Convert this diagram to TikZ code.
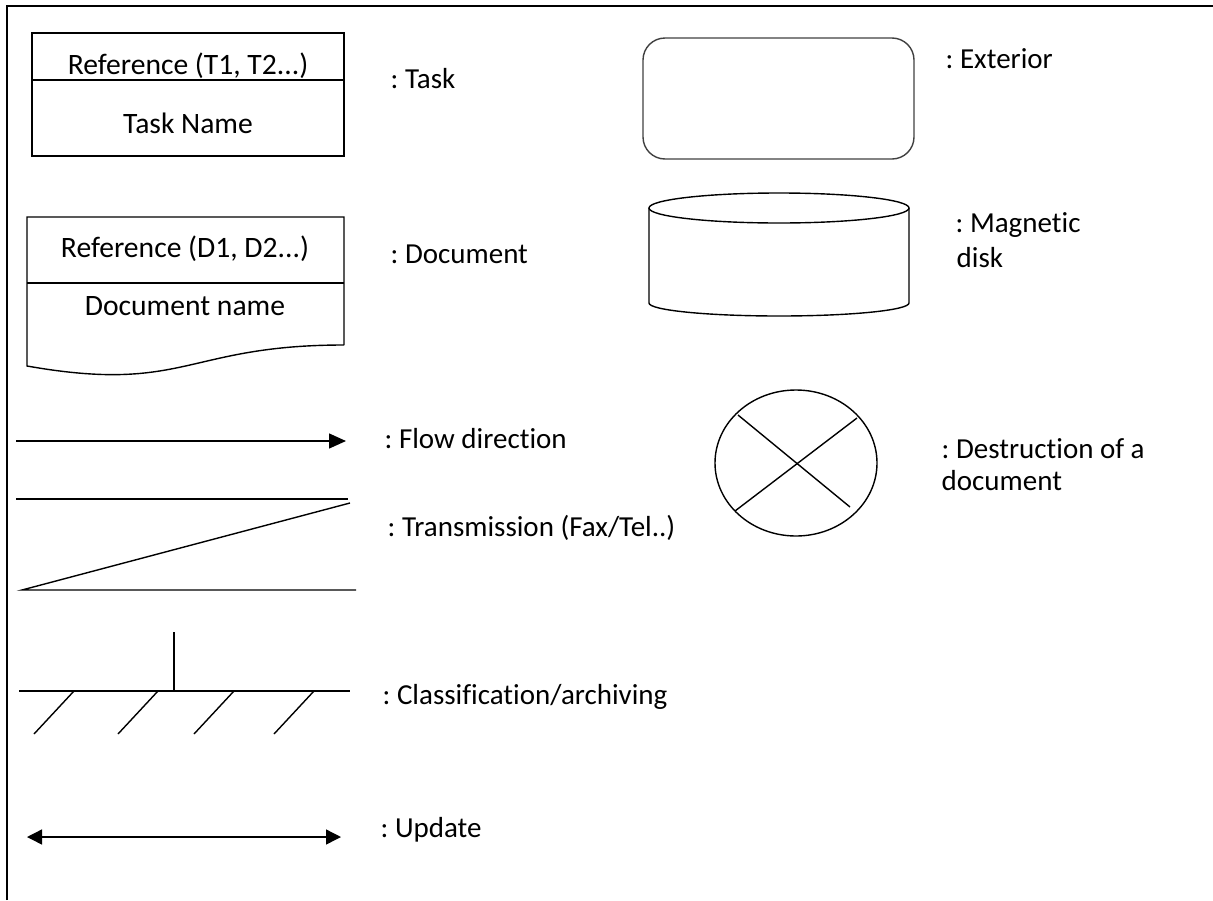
\documentclass[tikz,border=0pt]{standalone}
\usepackage{fontspec}
\setmainfont{Carlito}[RawFeature={-liga}]
\usetikzlibrary{arrows.meta}
\begin{document}
\frenchspacing
\begin{tikzpicture}[x=1pt,y=-1pt,line width=1.4pt,
  boxtext/.style={font=\fontsize{29.6}{34}\selectfont,inner sep=0pt,anchor=base},
  lbl/.style={font=\fontsize{29}{33}\selectfont,anchor=base west,inner sep=0pt},
  tip/.style={-{Triangle[length=17pt,width=15pt]}},
  dtip/.style={{Triangle[length=15pt,width=15pt]}-{Triangle[length=15pt,width=15pt]}}]
\useasboundingbox (0,0) rectangle (1213,900);
% frame
\draw[line width=2.2pt] (7,900) -- (7,6) -- (1213,6);
% Task
\draw (32,33) rectangle (344,156);
\draw (32,80) -- (344,80);
\node[boxtext] (tref) at (188,74) {Reference (T1, T2...)};
\node[boxtext] (tname) at (188,133) {Task Name};
\node[lbl] (ltask) at (390,88) {: Task};
% Document
\draw (344,345) -- (344,217) -- (27,217) -- (27,366) .. controls (185.5,394) and (185.5,345) .. (344,345);
\draw (27,283) -- (344,283);
\node[boxtext] (dref) at (185,257) {Reference (D1, D2...)};
\node[boxtext] (dname) at (185,315) {Document name};
\node[lbl] (ldoc) at (390,263) {: Document};
% Exterior
\draw[draw=black!75,rounded corners=22pt] (643,38) rectangle (914,159);
\node[lbl] (lext) at (945,68) {: Exterior};
% Magnetic disk
\draw (779,208) ellipse [x radius=130pt, y radius=15pt];
\draw (649,208) -- (649,303) arc[start angle=180,end angle=360,x radius=130pt,y radius=13pt] -- (909,208);
\node[lbl] (lmag) at (955,232) {: Magnetic};
\node[lbl] (lmag2) at (956,267) {disk};
% Destruction
\draw (796,463) ellipse [x radius=81pt, y radius=73pt];
\coordinate (x1) at (738,415); \coordinate (x2) at (850,507);
\coordinate (x3) at (857,418); \coordinate (x4) at (735,511);
\draw (x1) -- (x2); \draw (x3) -- (x4);
\node[lbl] (ldes) at (941,458) {: Destruction of a};
\node[lbl] (ldes2) at (941,490) {document};
% Flow direction
\coordinate (f1) at (16,441); \coordinate (f2) at (346,441);
\draw[tip] (f1) -- (f2);
\node[lbl] (lflow) at (384,448) {: Flow direction};
% Transmission
\coordinate (t1) at (16,499); \coordinate (t2) at (348,499);
\coordinate (t3) at (350,503); \coordinate (t4) at (22,590); \coordinate (t5) at (356,590);
\draw (t1) -- (t2);
\draw (t3) -- (t4) -- (t5);
\node[lbl] (ltrans) at (387,536) {: Transmission (Fax/Tel..)};
% Classification
\coordinate (c1) at (19,691); \coordinate (c2) at (350,691);
\coordinate (c3) at (174,632); \coordinate (c4) at (174,691);
\draw (c1) -- (c2);
\draw (c3) -- (c4);
\foreach \a/\b in {74/34,158/118,234/194,314/274} \draw (\a,691) -- (\b,734);
\node[lbl] (lclass) at (382,704) {: Classification/archiving};
% Update
\coordinate (u1) at (27,837); \coordinate (u2) at (341,837);
\draw[dtip] (u1) -- (u2);
\node[lbl] (lupd) at (380,837) {: Update};
\end{tikzpicture}
\end{document}
